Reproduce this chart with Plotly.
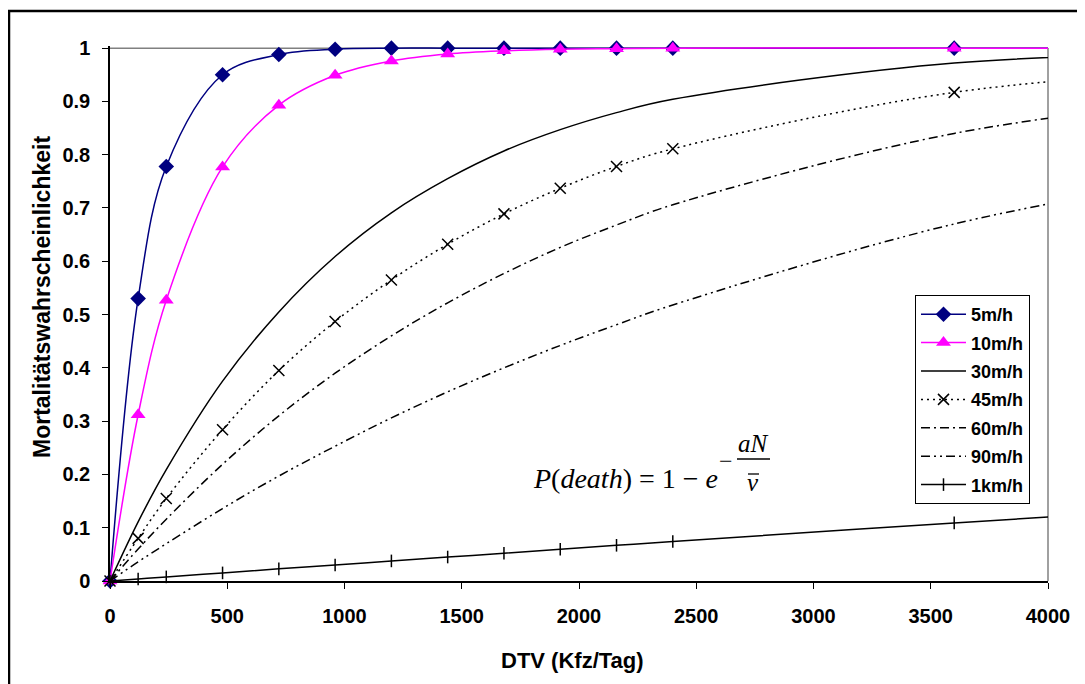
import plotly.graph_objects as go

# ---------------- data ----------------
dtv = [0, 120, 240, 480, 720, 960, 1200, 1440, 1680, 1920, 2160, 2400, 3600, 4800]
p_5 = [0, 0.53, 0.778, 0.95, 0.988, 0.998, 1.0, 1.0, 1.0, 1.0, 1.0, 1.0, 1.0, 1.0]
p_10 = [0, 0.312, 0.527, 0.777, 0.893, 0.949, 0.976, 0.989, 0.995, 0.998, 0.999, 1.0, 1.0, 1.0]
p_30 = [0, 0.111, 0.209, 0.375, 0.505, 0.609, 0.691, 0.755, 0.807, 0.847, 0.879, 0.904, 0.972, 0.991]
p_45 = [0, 0.08, 0.155, 0.284, 0.395, 0.487, 0.565, 0.632, 0.689, 0.737, 0.778, 0.811, 0.917, 0.962]
p_60 = [0, 0.06, 0.116, 0.219, 0.31, 0.39, 0.46, 0.522, 0.577, 0.626, 0.668, 0.706, 0.84, 0.91]
p_90 = [0, 0.036, 0.07, 0.136, 0.197, 0.253, 0.306, 0.355, 0.4, 0.442, 0.481, 0.518, 0.67, 0.77]
p_1k = [0, 0.0038, 0.0077, 0.0152, 0.0228, 0.030, 0.0377, 0.045, 0.052, 0.0596, 0.067, 0.074, 0.109, 0.142]

series_names = ["5m/h", "10m/h", "30m/h", "45m/h", "60m/h", "90m/h", "1km/h"]
x_ticks = [0, 500, 1000, 1500, 2000, 2500, 3000, 3500, 4000]
y_ticks = [0, 0.1, 0.2, 0.3, 0.4, 0.5, 0.6, 0.7, 0.8, 0.9, 1]
y_tick_text = ["0", "0.1", "0.2", "0.3", "0.4", "0.5", "0.6", "0.7", "0.8", "0.9", "1"]
x_title = "DTV (Kfz/Tag)"
y_title = "Mortalitätswahrscheinlichkeit"

# ---------------- layout helpers ----------------
# The page body adds an 8px margin, so the figure is 8px smaller than the window.
W, H = 1077, 676
L, R, T, B = 102, 37, 38, 103
PW, PH = W - L - R, H - T - B
YMAX = 1.004


def px(x):
    """window pixel x (reference coords) -> paper x"""
    return (x - 8 - L) / PW


def py(y):
    """window pixel y (reference coords) -> paper y"""
    return (H - B - (y - 8)) / PH


BOLD = dict(family="Arial", color="black", weight="bold")

fig = go.Figure()

styles = [
    dict(y=p_5, mode="lines+markers", line=dict(color="#000080", width=1.5),
         marker=dict(symbol="diamond", size=12, color="#000080")),
    dict(y=p_10, mode="lines+markers", line=dict(color="#FF00FF", width=1.5),
         marker=dict(symbol="triangle-up", size=13, color="#FF00FF")),
    dict(y=p_30, mode="lines", line=dict(color="black", width=1.5)),
    dict(y=p_45, mode="lines+markers", line=dict(color="black", width=1.5, dash="2px,4px"),
         marker=dict(symbol="x-thin-open", size=11, color="black", line=dict(width=1.5, color="black"))),
    dict(y=p_60, mode="lines", line=dict(color="black", width=1.5, dash="9px,4px,2px,4px")),
    dict(y=p_90, mode="lines", line=dict(color="black", width=1.5, dash="9px,4px,2px,4px,2px,4px")),
    dict(y=p_1k, mode="lines+markers", line=dict(color="black", width=1.5),
         marker=dict(symbol="line-ns-open", size=9, color="black", line=dict(width=1.5, color="black"))),
]

for name, st in zip(series_names, styles):
    fig.add_trace(go.Scatter(x=dtv, name=name, line_shape="spline", cliponaxis=False,
                             legendgroup=name, **st))

fig.update_layout(
    width=W, height=H,
    margin=dict(l=L, r=R, t=T, b=B, autoexpand=False),
    paper_bgcolor="white", plot_bgcolor="white",
    font=dict(family="Arial", color="black"),
    showlegend=True,
    legend=dict(x=px(915), y=py(295), xanchor="left", yanchor="top",
                bgcolor="white", bordercolor="black", borderwidth=1,
                font=dict(size=18, **BOLD),
                tracegroupgap=2, itemwidth=45),
    xaxis=dict(range=[0, 4000], tickvals=x_ticks, ticks="outside", ticklen=6, tickcolor="black",
               showline=True, linecolor="black", linewidth=1.5, showgrid=False, zeroline=False,
               tickfont=dict(size=20, **BOLD), ticklabelstandoff=10),
    yaxis=dict(range=[0, YMAX], tickvals=y_ticks, ticktext=y_tick_text, ticks="outside", ticklen=6,
               tickcolor="black", showline=True, linecolor="black", linewidth=1.5, showgrid=False,
               zeroline=False, tickfont=dict(size=20, **BOLD), ticklabelstandoff=8),
)

# plot-area border (grey top and right) and outer chart frame
fig.add_shape(type="line", xref="paper", yref="y", x0=0, x1=1, y0=1, y1=1,
              line=dict(color="#808080", width=1.5), layer="below")
fig.add_shape(type="line", xref="paper", yref="paper", x0=1, x1=1, y0=0, y1=py(48),
              line=dict(color="#808080", width=1.5), layer="below")
fig.add_shape(type="rect", xref="paper", yref="paper", x0=px(9), x1=px(1110), y0=py(11), y1=py(720),
              line=dict(color="black", width=2.5), layer="below")

# axis titles
fig.add_annotation(text=x_title, xref="paper", yref="paper", x=px(572), y=py(660),
                   xanchor="center", yanchor="middle",
                   showarrow=False, font=dict(size=22, **BOLD))
fig.add_annotation(text=y_title, xref="paper", yref="paper", x=px(42), y=py(297), textangle=-90,
                   xanchor="center", yanchor="middle",
                   showarrow=False, font=dict(size=23, **BOLD))

# formula  P(death) = 1 - e^(-aN / v̄)
SERIF = dict(family="Liberation Serif", color="black")
fig.add_annotation(text="<i>P</i>(<i>death</i>) = 1 − <i>e</i>", xref="paper", yref="paper",
                   x=px(531), y=py(479), xanchor="left", yanchor="middle", showarrow=False,
                   font=dict(size=28, **SERIF))
fig.add_annotation(text="−", xref="paper", yref="paper", x=px(726), y=py(461),
                   xanchor="center", yanchor="middle",
                   showarrow=False, font=dict(size=24, **SERIF))
fig.add_annotation(text="<i>aN</i>", xref="paper", yref="paper", x=px(753), y=py(443),
                   xanchor="center", yanchor="middle",
                   showarrow=False, font=dict(size=25, **SERIF))
fig.add_annotation(text="<i>v</i>", xref="paper", yref="paper", x=px(753), y=py(482),
                   xanchor="center", yanchor="middle",
                   showarrow=False, font=dict(size=25, **SERIF))
fig.add_shape(type="line", xref="paper", yref="paper", x0=px(737), x1=px(770), y0=py(459), y1=py(459),
              line=dict(color="black", width=1.3))
fig.add_shape(type="line", xref="paper", yref="paper", x0=px(748), x1=px(759), y0=py(474), y1=py(474),
              line=dict(color="black", width=1.3))

fig.write_html("out.html")
